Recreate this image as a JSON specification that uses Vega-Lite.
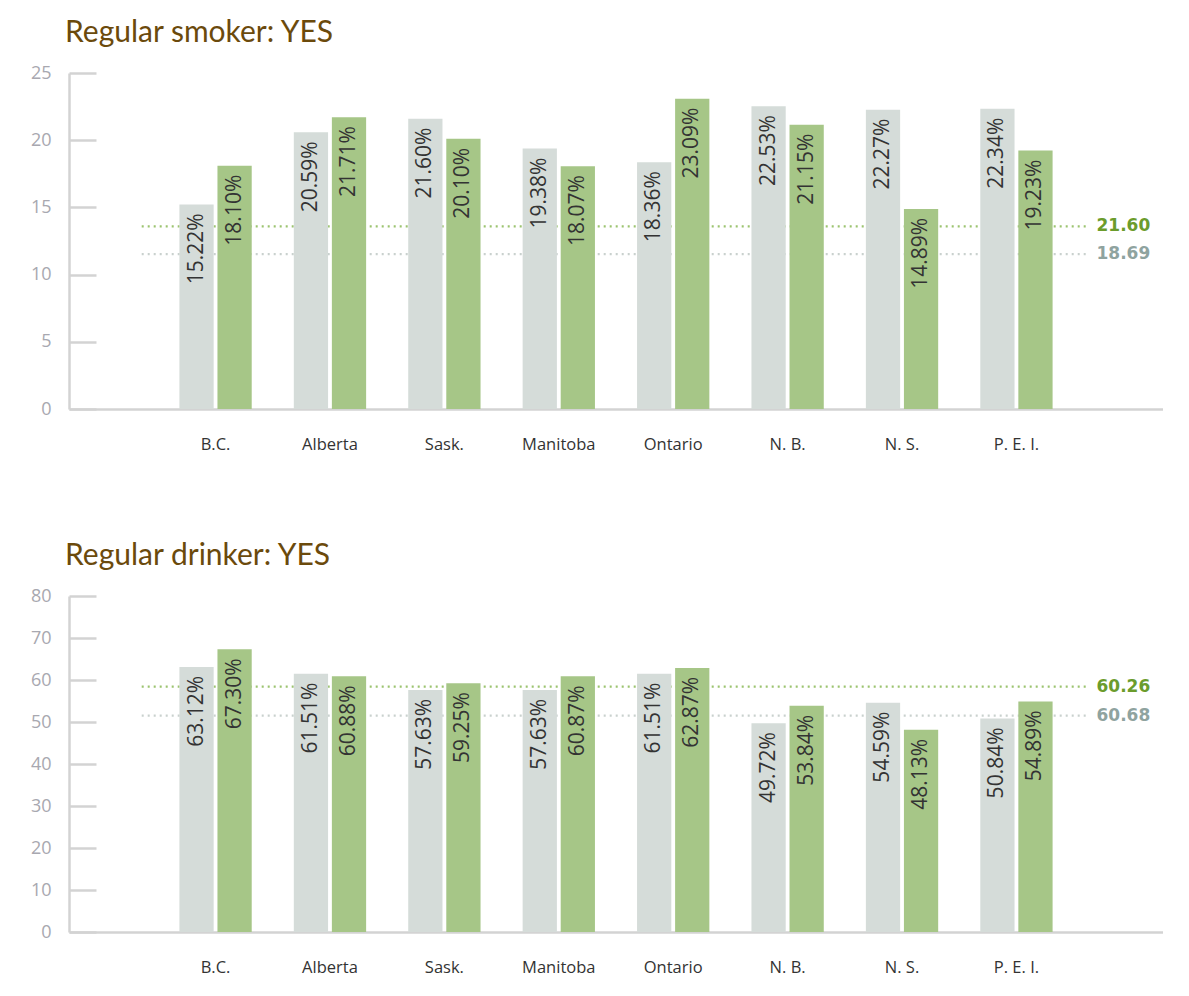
{
  "$schema": "https://vega.github.io/schema/vega-lite/v6.json",
  "padding": {"left": 30, "top": 18, "right": 0, "bottom": 0},
  "background": "white",
  "config": {
    "view": {"stroke": null},
    "font": "Open Sans",
    "title": {"font": "Lato", "fontSize": 30, "fontWeight": "normal", "color": "#6b4a0c", "anchor": "start", "frame": "group", "offset": 16, "dx": -4},
    "axisY": {"domainColor": "#d3d3d3", "domainWidth": 2.5, "tickColor": "#d3d3d3", "tickWidth": 2.5, "tickSize": -27, "labelPadding": 45, "labelColor": "#a8a8b0", "labelFontSize": 18, "labelFont": "Open Sans", "grid": false, "title": null},
    "axisX": {"domainColor": "#d3d3d3", "domainWidth": 2.5, "ticks": false, "labelPadding": 27, "labelFontSize": 16.5, "labelColor": "#333333", "labelFont": "Open Sans", "labelAngle": 0, "title": null}
  },
  "datasets": {
    "smoke": [
      {"province": "B.C.", "series": "Group 1", "value": 15.22, "label": "15.22%"},
      {"province": "B.C.", "series": "Group 2", "value": 18.10, "label": "18.10%"},
      {"province": "Alberta", "series": "Group 1", "value": 20.59, "label": "20.59%"},
      {"province": "Alberta", "series": "Group 2", "value": 21.71, "label": "21.71%"},
      {"province": "Sask.", "series": "Group 1", "value": 21.60, "label": "21.60%"},
      {"province": "Sask.", "series": "Group 2", "value": 20.10, "label": "20.10%"},
      {"province": "Manitoba", "series": "Group 1", "value": 19.38, "label": "19.38%"},
      {"province": "Manitoba", "series": "Group 2", "value": 18.07, "label": "18.07%"},
      {"province": "Ontario", "series": "Group 1", "value": 18.36, "label": "18.36%"},
      {"province": "Ontario", "series": "Group 2", "value": 23.09, "label": "23.09%"},
      {"province": "N. B.", "series": "Group 1", "value": 22.53, "label": "22.53%"},
      {"province": "N. B.", "series": "Group 2", "value": 21.15, "label": "21.15%"},
      {"province": "N. S.", "series": "Group 1", "value": 22.27, "label": "22.27%"},
      {"province": "N. S.", "series": "Group 2", "value": 14.89, "label": "14.89%"},
      {"province": "P. E. I.", "series": "Group 1", "value": 22.34, "label": "22.34%"},
      {"province": "P. E. I.", "series": "Group 2", "value": 19.23, "label": "19.23%"}
    ],
    "smokeRef": [
      {"series": "Group 2", "level": 13.59, "label": "21.60"},
      {"series": "Group 1", "level": 11.53, "label": "18.69"}
    ],
    "drink": [
      {"province": "B.C.", "series": "Group 1", "value": 63.12, "label": "63.12%"},
      {"province": "B.C.", "series": "Group 2", "value": 67.30, "label": "67.30%"},
      {"province": "Alberta", "series": "Group 1", "value": 61.51, "label": "61.51%"},
      {"province": "Alberta", "series": "Group 2", "value": 60.88, "label": "60.88%"},
      {"province": "Sask.", "series": "Group 1", "value": 57.63, "label": "57.63%"},
      {"province": "Sask.", "series": "Group 2", "value": 59.25, "label": "59.25%"},
      {"province": "Manitoba", "series": "Group 1", "value": 57.63, "label": "57.63%"},
      {"province": "Manitoba", "series": "Group 2", "value": 60.87, "label": "60.87%"},
      {"province": "Ontario", "series": "Group 1", "value": 61.51, "label": "61.51%"},
      {"province": "Ontario", "series": "Group 2", "value": 62.87, "label": "62.87%"},
      {"province": "N. B.", "series": "Group 1", "value": 49.72, "label": "49.72%"},
      {"province": "N. B.", "series": "Group 2", "value": 53.84, "label": "53.84%"},
      {"province": "N. S.", "series": "Group 1", "value": 54.59, "label": "54.59%"},
      {"province": "N. S.", "series": "Group 2", "value": 48.13, "label": "48.13%"},
      {"province": "P. E. I.", "series": "Group 1", "value": 50.84, "label": "50.84%"},
      {"province": "P. E. I.", "series": "Group 2", "value": 54.89, "label": "54.89%"}
    ],
    "drinkRef": [
      {"series": "Group 2", "level": 58.4, "label": "60.26"},
      {"series": "Group 1", "level": 51.5, "label": "60.68"}
    ]
  },
  "spacing": 88,
  "vconcat": [
    {
      "title": "Regular smoker: YES",
      "width": 1094,
      "height": 336,
      "layer": [
        {
          "data": {"name": "smokeRef"},
          "layer": [
            {
              "mark": {"type": "rule", "strokeDash": [2, 4], "strokeWidth": 2.2},
              "encoding": {
                "x": {"datum": -0.646, "type": "quantitative", "scale": {"domain": [-1.2815, 8.2815], "nice": false, "zero": false}, "axis": null},
                "x2": {"datum": 7.64},
                "y": {"field": "level", "type": "quantitative"},
                "color": {"condition": {"test": "datum.series === 'Group 2'", "value": "#9cc46f"}, "value": "#c9d1ce"}
              }
            },
            {
              "mark": {"type": "text", "align": "left", "baseline": "middle", "font": "DejaVu Sans", "fontWeight": "bold", "fontSize": 17},
              "encoding": {
                "x": {"datum": 7.70, "type": "quantitative"},
                "y": {"field": "level", "type": "quantitative"},
                "text": {"field": "label"},
                "color": {"condition": {"test": "datum.series === 'Group 2'", "value": "#6b9c2c"}, "value": "#8fa39f"}
              }
            }
          ]
        },
        {
          "data": {"name": "smoke"},
          "layer": [
            {
              "mark": {"type": "bar"},
              "encoding": {
                "x": {"field": "province", "type": "nominal", "sort": null, "scale": {"paddingInner": 0.368, "paddingOuter": 0.965}, "axis": {"orient": "bottom"}},
                "xOffset": {"field": "series", "scale": {"paddingInner": 0.1}},
                "y": {"field": "value", "type": "quantitative", "scale": {"domain": [0, 25], "nice": false}, "axis": {"values": [0, 5, 10, 15, 20, 25]}},
                "color": {"condition": {"test": "datum.series === 'Group 2'", "value": "#a6c687"}, "value": "#d5dcd9"}
              }
            },
            {
              "mark": {"type": "text", "angle": 270, "align": "right", "baseline": "middle", "dx": -9, "fontSize": 21, "color": "#333333"},
              "encoding": {
                "x": {"field": "province", "type": "nominal", "sort": null},
                "xOffset": {"field": "series"},
                "y": {"field": "value", "type": "quantitative"},
                "text": {"field": "label"}
              }
            }
          ]
        }
      ],
      "resolve": {"scale": {"x": "independent"}}
    },
    {
      "title": "Regular drinker: YES",
      "width": 1094,
      "height": 336,
      "layer": [
        {
          "data": {"name": "drinkRef"},
          "layer": [
            {
              "mark": {"type": "rule", "strokeDash": [2, 4], "strokeWidth": 2.2},
              "encoding": {
                "x": {"datum": -0.646, "type": "quantitative", "scale": {"domain": [-1.2815, 8.2815], "nice": false, "zero": false}, "axis": null},
                "x2": {"datum": 7.64},
                "y": {"field": "level", "type": "quantitative"},
                "color": {"condition": {"test": "datum.series === 'Group 2'", "value": "#9cc46f"}, "value": "#c9d1ce"}
              }
            },
            {
              "mark": {"type": "text", "align": "left", "baseline": "middle", "font": "DejaVu Sans", "fontWeight": "bold", "fontSize": 17},
              "encoding": {
                "x": {"datum": 7.70, "type": "quantitative"},
                "y": {"field": "level", "type": "quantitative"},
                "text": {"field": "label"},
                "color": {"condition": {"test": "datum.series === 'Group 2'", "value": "#6b9c2c"}, "value": "#8fa39f"}
              }
            }
          ]
        },
        {
          "data": {"name": "drink"},
          "layer": [
            {
              "mark": {"type": "bar"},
              "encoding": {
                "x": {"field": "province", "type": "nominal", "sort": null, "scale": {"paddingInner": 0.368, "paddingOuter": 0.965}, "axis": {"orient": "bottom"}},
                "xOffset": {"field": "series", "scale": {"paddingInner": 0.1}},
                "y": {"field": "value", "type": "quantitative", "scale": {"domain": [0, 80], "nice": false}, "axis": {"values": [0, 10, 20, 30, 40, 50, 60, 70, 80]}},
                "color": {"condition": {"test": "datum.series === 'Group 2'", "value": "#a6c687"}, "value": "#d5dcd9"}
              }
            },
            {
              "mark": {"type": "text", "angle": 270, "align": "right", "baseline": "middle", "dx": -9, "fontSize": 21, "color": "#333333"},
              "encoding": {
                "x": {"field": "province", "type": "nominal", "sort": null},
                "xOffset": {"field": "series"},
                "y": {"field": "value", "type": "quantitative"},
                "text": {"field": "label"}
              }
            }
          ]
        }
      ],
      "resolve": {"scale": {"x": "independent"}}
    }
  ]
}
